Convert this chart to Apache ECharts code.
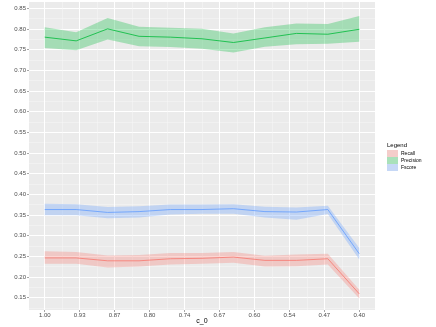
<!DOCTYPE html>
<html>
<head>
<meta charset="utf-8">
<script src="https://cdn.jsdelivr.net/npm/echarts@6/dist/echarts.min.js"></script>
<style>
  html, body { margin: 0; padding: 0; background: #ffffff; }
  #chart { width: 436px; height: 327px; }
</style>
</head>
<body>
<div id="chart"></div>
<script>
// c_0 values (x)
var cValues = [1.00, 0.94, 0.88, 0.82, 0.76, 0.70, 0.64, 0.58, 0.52, 0.46, 0.40];

var recallMean = [0.246, 0.246, 0.239, 0.239, 0.244, 0.245, 0.248, 0.240, 0.240, 0.244, 0.159];
var recallLow = [0.232, 0.232, 0.223, 0.225, 0.230, 0.232, 0.234, 0.225, 0.226, 0.230, 0.148];
var recallHigh = [0.262, 0.260, 0.252, 0.253, 0.258, 0.258, 0.260, 0.251, 0.254, 0.256, 0.169];

var precisionMean = [0.780, 0.771, 0.800, 0.782, 0.780, 0.776, 0.767, 0.778, 0.789, 0.787, 0.799];
var precisionLow = [0.754, 0.748, 0.774, 0.758, 0.756, 0.752, 0.743, 0.757, 0.763, 0.764, 0.769];
var precisionHigh = [0.804, 0.792, 0.826, 0.805, 0.803, 0.800, 0.789, 0.804, 0.813, 0.812, 0.831];

var fscoreMean = [0.363, 0.363, 0.356, 0.358, 0.363, 0.363, 0.365, 0.358, 0.357, 0.363, 0.256];
var fscoreLow = [0.349, 0.349, 0.342, 0.344, 0.351, 0.353, 0.353, 0.344, 0.338, 0.352, 0.242];
var fscoreHigh = [0.377, 0.376, 0.369, 0.371, 0.375, 0.375, 0.376, 0.370, 0.368, 0.372, 0.270];

// tick positions / labels
var xTickValues = [1.0, 0.9333, 0.8667, 0.8, 0.7333, 0.6667, 0.6, 0.5333, 0.4667, 0.4];
var xTickLabels = ["1.00", "0.93", "0.87", "0.80", "0.74", "0.67", "0.60", "0.54", "0.47", "0.40"];
var yTickValues = [0.15, 0.20, 0.25, 0.30, 0.35, 0.40, 0.45, 0.50, 0.55, 0.60, 0.65, 0.70, 0.75, 0.80, 0.85];

var metrics = [
  { name: "Recall", mean: recallMean, low: recallLow, high: recallHigh, color: "#F8766D", key: "#F4CDCA" },
  { name: "Precision", mean: precisionMean, low: precisionLow, high: precisionHigh, color: "#00BA38", key: "#A9E1BA" },
  { name: "Fscore", mean: fscoreMean, low: fscoreLow, high: fscoreHigh, color: "#619CFF", key: "#C6D8F6" }
];

function midpoints(arr) {
  var out = [];
  for (var i = 0; i < arr.length - 1; i++) {
    out.push((arr[i] + arr[i + 1]) / 2);
  }
  return out;
}

function hexAlpha(hex, a) {
  var r = parseInt(hex.slice(1, 3), 16);
  var g = parseInt(hex.slice(3, 5), 16);
  var b = parseInt(hex.slice(5, 7), 16);
  return "rgba(" + r + "," + g + "," + b + "," + a + ")";
}

var xMinor = midpoints(xTickValues);
var yMinor = midpoints(yTickValues);
yMinor.unshift(0.125);

var font = "Liberation Sans, Arial, sans-serif";
var series = [];
metrics.forEach(function(m) {
  // ribbon: one polygon, drawn once from the whole low/high data
  series.push({
    name: m.name + "_band",
    type: "custom",
    silent: true,
    data: cValues.map(function(c, i) { return [c, m.low[i], m.high[i]]; }),
    encode: { x: 0, y: [1, 2] },
    renderItem: function(params, api) {
      if (params.dataIndexInside !== 0) return;
      var pts = [];
      for (var i = 0; i < cValues.length; i++) {
        pts.push(api.coord([cValues[i], m.high[i]]));
      }
      for (var j = cValues.length - 1; j >= 0; j--) {
        pts.push(api.coord([cValues[j], m.low[j]]));
      }
      return {
        type: "polygon",
        shape: { points: pts },
        style: { fill: hexAlpha(m.color, 0.3), stroke: null }
      };
    }
  });
  series.push({
    name: m.name,
    type: "line",
    symbol: "none",
    color: m.color,
    z: 3,
    lineStyle: { color: m.color, width: 0.8 },
    data: cValues.map(function(c, i) { return [c, m.mean[i]]; })
  });
});

var chart = echarts.init(document.getElementById("chart"));
chart.setOption({
  animation: false,
  backgroundColor: "#ffffff",
  title: {
    text: "Legend",
    left: 387,
    top: 142,
    padding: 0,
    textStyle: { fontFamily: font, fontSize: 6, fontWeight: "normal", color: "#000000" }
  },
  legend: {
    orient: "vertical",
    left: 387,
    top: 150,
    padding: 0,
    itemGap: 0,
    itemWidth: 11,
    itemHeight: 7,
    icon: "rect",
    selectedMode: false,
    textStyle: { fontFamily: font, fontSize: 5, color: "#000000", lineHeight: 7, padding: [0, 0, 0, -2] },
    data: metrics.map(function(m) {
      return { name: m.name, itemStyle: { color: m.key } };
    })
  },
  grid: {
    left: 29,
    right: 61,
    top: 2,
    bottom: 17,
    outerBoundsMode: "none",
    containLabel: false,
    show: true,
    backgroundColor: "#EBEBEB",
    borderWidth: 0
  },
  xAxis: [
    {
      type: "value",
      name: "c_0",
      nameLocation: "middle",
      nameGap: 8,
      nameMoveOverlap: false,
      nameTextStyle: { fontFamily: font, fontSize: 7, color: "#000000" },
      inverse: true,
      min: 0.37,
      max: 1.03,
      axisLine: { show: false },
      axisTick: { show: true, length: 2, customValues: xTickValues, lineStyle: { color: "#4D4D4D", width: 0.5 } },
      axisLabel: {
        margin: 2,
        fontFamily: font,
        fontSize: 6,
        color: "#4D4D4D",
        customValues: xTickValues,
        formatter: function(v) {
          for (var i = 0; i < xTickValues.length; i++) {
            if (Math.abs(xTickValues[i] - v) < 0.001) return xTickLabels[i];
          }
          return "";
        }
      },
      splitLine: { show: true, lineStyle: { color: "#ffffff", width: 1 } }
    },
    {
      type: "value",
      inverse: true,
      min: 0.37,
      max: 1.03,
      axisLine: { show: false },
      axisTick: { show: false, customValues: xMinor },
      axisLabel: { show: false, customValues: xMinor },
      splitLine: { show: true, lineStyle: { color: "#F7F7F7", width: 0.5 } }
    }
  ],
  yAxis: [
    {
      type: "value",
      min: 0.12,
      max: 0.865,
      axisLine: { show: false },
      axisTick: { show: true, length: 2, customValues: yTickValues, lineStyle: { color: "#4D4D4D", width: 0.5 } },
      axisLabel: {
        margin: 3,
        fontFamily: font,
        fontSize: 6,
        color: "#4D4D4D",
        customValues: yTickValues,
        formatter: function(v) { return v.toFixed(2); }
      },
      splitLine: { show: true, lineStyle: { color: "#ffffff", width: 1 } }
    },
    {
      type: "value",
      min: 0.12,
      max: 0.865,
      axisLine: { show: false },
      axisTick: { show: false, customValues: yMinor },
      axisLabel: { show: false, customValues: yMinor },
      splitLine: { show: true, lineStyle: { color: "#F7F7F7", width: 0.5 } }
    }
  ],
  series: series
});
</script>
</body>
</html>
